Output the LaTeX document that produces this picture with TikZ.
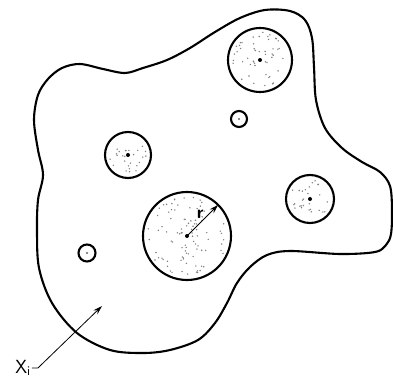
\documentclass[tikz,border=0pt]{standalone}
\usepackage{tikz}
\usetikzlibrary{arrows.meta}
\newcommand{\speckle}[3]{\foreach \k in {1,...,#3}{\pgfmathsetmacro{\spang}{360*rnd}\pgfmathsetmacro{\sprad}{(#2-4)*sqrt(rnd)}\fill[black!50] (#1.center) ++(\spang:\sprad) circle (0.8);}}
\tikzset{grain/.style={circle,draw,line width=2.1pt,outer sep=0pt,inner sep=0pt,minimum size=#1}}

\begin{document}
\begin{tikzpicture}[x=1pt,y=-1pt,>={Stealth[length=9pt,width=5.5pt]},font=\sffamily\fontsize{19}{21}\selectfont]
\useasboundingbox (0,0) rectangle (393,390);
\pgfmathsetseed{17}
% outer body
\draw[line width=2.1pt] plot[smooth cycle,tension=0.55] coordinates {
 (62,68) (80,64) (103,69) (125,73) (143,68) (167,60) (190,48) (215,32) (240,18) (265,10)
 (290,11) (305,20) (312,38) (314,67) (316,100) (325,128) (342,148) (362,162) (380,172)
 (390,186) (392,210) (391,234) (386,245) (375,252) (340,254) (290,251) (267,255) (250,267)
 (237,283) (227,303) (215,323) (198,340) (170,350) (143,353) (110,350) (77,333) (52,303)
 (39,268) (37,230) (38,200) (43,175) (38,150) (34,120) (38,95) (48,79)};
% inclusions
\node[grain=88pt] (big) at (187,236) {};
\node[grain=64pt] (topr) at (260,60) {};
\node[grain=46pt] (left) at (128,155) {};
\node[grain=48pt] (right) at (310,199) {};
\node[grain=16pt] (tiny1) at (239,119) {};
\node[grain=17pt] (tiny2) at (87,253) {};
\speckle{big}{44}{95}
\speckle{topr}{32}{50}
\speckle{left}{23}{26}
\speckle{right}{24}{28}
\foreach \n in {big,topr,left,right} \fill (\n.center) circle (2);
\foreach \n in {tiny1,tiny2} \fill[black!60] (\n.center) circle (1.2);
% radius
\draw[line width=0.9pt,->] (big.center) -- (big.45) node[pos=0.55,above left,inner sep=0pt,font=\sffamily\bfseries\fontsize{18}{20}\selectfont]{r};
% label
\node[inner sep=1pt] (xi) at (23,368) {X\textsubscript{i}};
\coordinate (xtip) at (102,306);
\draw[line width=0.8pt,->] (xi.east) -- ++(6,0) -- (xtip);
\end{tikzpicture}
\end{document}
